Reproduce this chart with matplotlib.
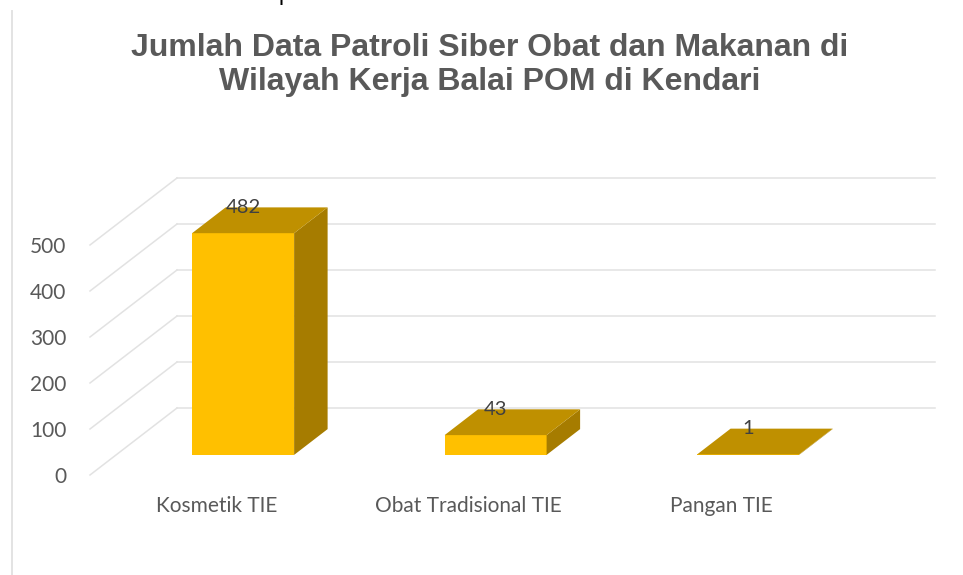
import matplotlib
matplotlib.use("Agg")
import matplotlib.pyplot as plt
from matplotlib.patches import Polygon

categories = ["Kosmetik TIE", "Obat Tradisional TIE", "Pangan TIE"]
values = [482, 43, 1]
y_ticks = [0, 100, 200, 300, 400, 500]
title = "Jumlah Data Patroli Siber Obat dan Makanan di\nWilayah Kerja Balai POM di Kendari"
caption = "data di Balai POM Kendari pada Gambar 30"

W, H = 963, 575
fig = plt.figure(figsize=(W / 100, H / 100), dpi=100, facecolor="white")
L, R, T, B = 90, 847.5, 245, 475
ax = fig.add_axes([L / W, 1 - B / H, (R - L) / W, (B - T) / H])
ax.set_xlim(0, 3)
ax.set_ylim(0, 500)
ax.patch.set_visible(False)
for s in ax.spines.values():
    s.set_visible(False)

# oblique depth vector of the 3-D floor, in data units
DX = 87 / 252.5
DY = 67 / 0.46
BAR_W = 0.404
D0, D1 = 0.30, 0.685   # depth fractions of bar front and back

GRID = "#e2e2e2"
for v in y_ticks:
    ax.plot([0, DX], [v, v + DY], color=GRID, lw=1.1, clip_on=False, zorder=1)
    ax.plot([DX, 3 + DX], [v + DY, v + DY], color=GRID, lw=1.1, clip_on=False, zorder=1)

FRONT, TOP, SIDE = "#ffc000", "#bf9000", "#a67c00"
for i, v in enumerate(values):
    x0 = i + 0.5 - BAR_W / 2 + D0 * DX + 0.003
    x1 = x0 + BAR_W
    y0 = D0 * DY
    dx = (D1 - D0) * DX
    dy = (D1 - D0) * DY
    ax.add_patch(Polygon([(x0, y0), (x1, y0), (x1, y0 + v), (x0, y0 + v)],
                         fc=FRONT, ec="none", clip_on=False, zorder=3))
    ax.add_patch(Polygon([(x1, y0), (x1 + dx, y0 + dy), (x1 + dx, y0 + dy + v), (x1, y0 + v)],
                         fc=SIDE, ec="none", clip_on=False, zorder=3))
    ax.add_patch(Polygon([(x0, y0 + v), (x1, y0 + v), (x1 + dx, y0 + dy + v), (x0 + dx, y0 + dy + v)],
                         fc=TOP, ec="none", clip_on=False, zorder=3))
    ax.text((x0 + x1) / 2, y0 + dy + v, str(v), ha="center", va="center",
            color="#404040", fontsize=14.5, family="Lato", zorder=5)

TXT = "#595959"
ax.set_yticks(y_ticks)
ax.set_yticklabels([str(v) for v in y_ticks], color=TXT, fontsize=15, family="Lato")
ax.set_xticks([0.5, 1.5, 2.5])
ax.set_xticklabels(categories, color=TXT, fontsize=15, family="Lato")
ax.tick_params(axis="both", length=0)
ax.tick_params(axis="y", pad=17)
ax.tick_params(axis="x", pad=15)

fig.text(490 / W, 1 - 65 / H, title, ha="center", va="center", color=TXT,
         fontsize=23, fontweight="bold", family="Liberation Sans", linespacing=1.16)
fig.text(3 / W, 1 - 0 / H, caption, ha="left", va="baseline", color="black",
         fontsize=16.5, family="Liberation Sans")
fig.add_artist(plt.Line2D([11.5 / W, 11.5 / W], [0, 1 - 11 / H], color="#e3e3e3", lw=1.4))

fig.savefig("out.png", dpi=100)
